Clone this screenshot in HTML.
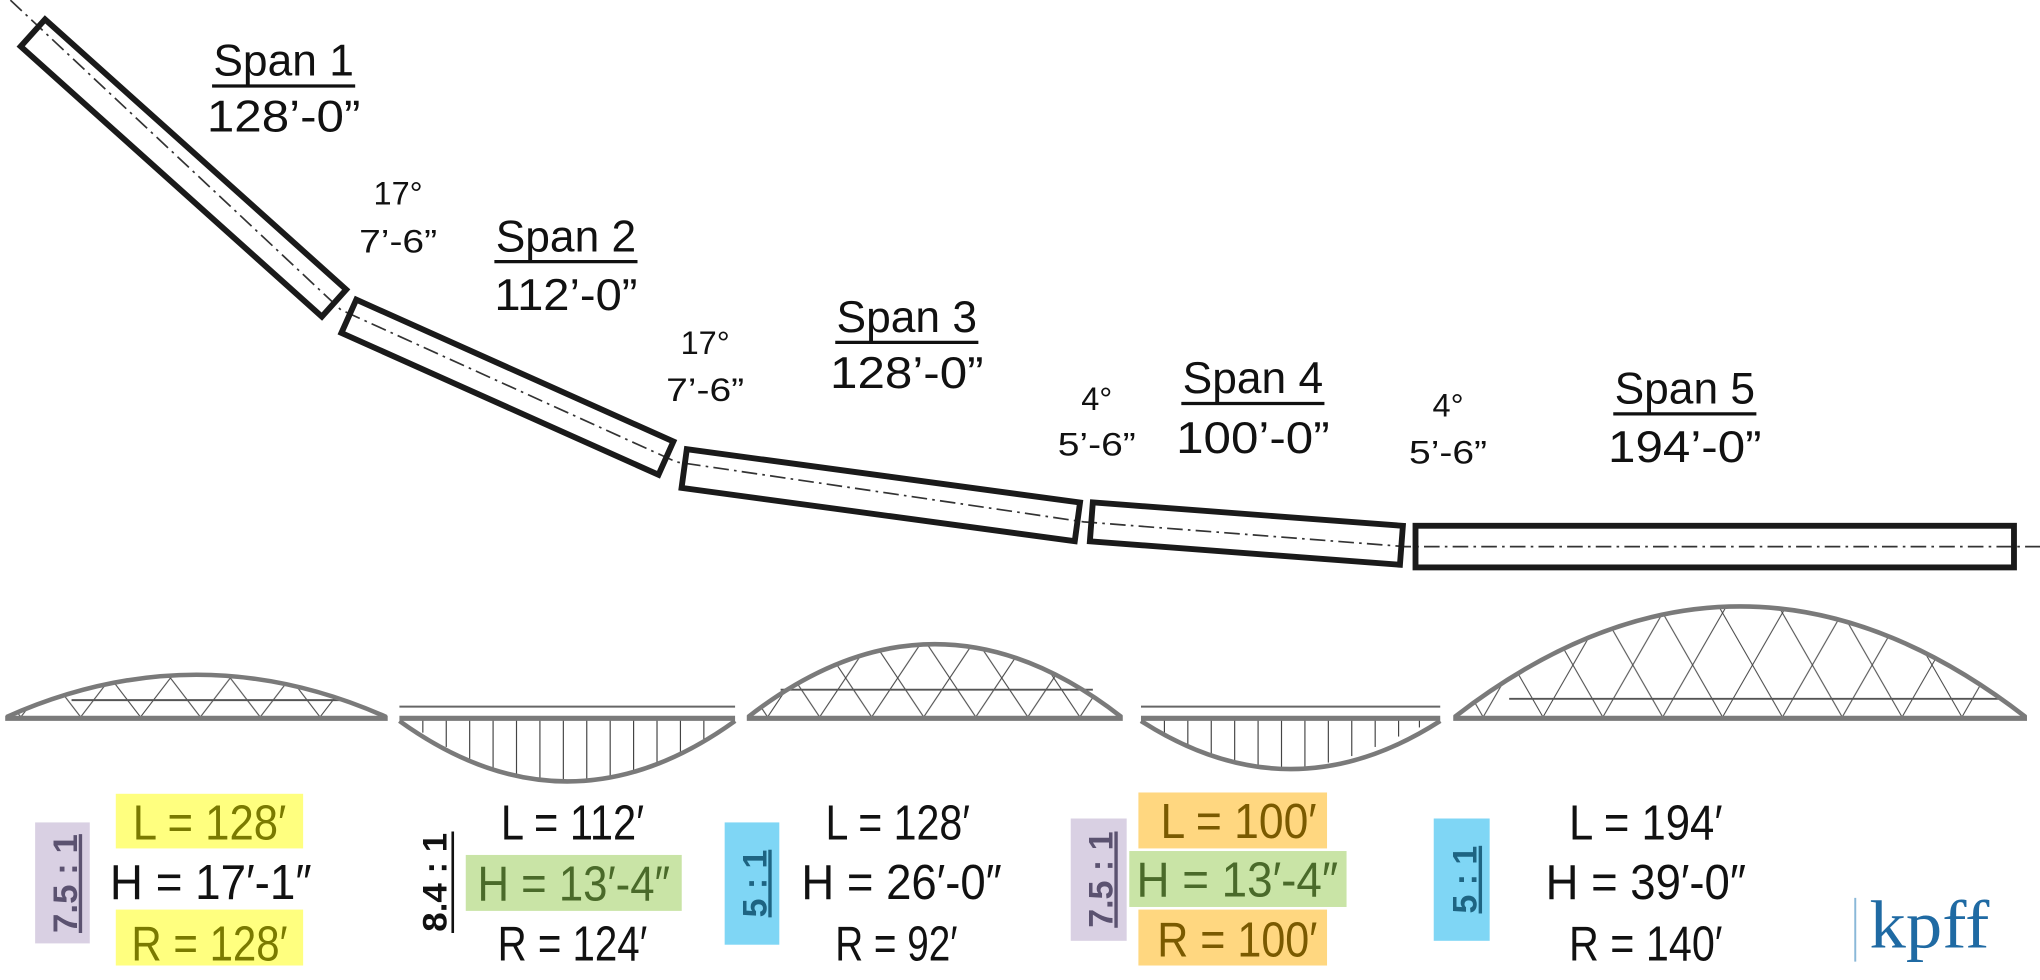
<!DOCTYPE html>
<html><head><meta charset="utf-8"><style>html,body{margin:0;padding:0;background:#fff}svg{display:block}</style></head>
<body>
<svg width="2040" height="980" viewBox="0 0 1568 753" xmlns="http://www.w3.org/2000/svg" font-family="'Liberation Sans', sans-serif">
<defs>
<pattern id="p1" patternUnits="userSpaceOnUse" x="16" y="491" width="46" height="60"><path d="M0,60 L46,0 M0,0 L46,60" stroke="#444" stroke-width="0.8" fill="none"/></pattern>
<pattern id="p3" patternUnits="userSpaceOnUse" x="590" y="491" width="40" height="60"><path d="M0,60 L40,0 M0,0 L40,60" stroke="#444" stroke-width="0.8" fill="none"/></pattern>
<pattern id="p5" patternUnits="userSpaceOnUse" x="1140" y="471" width="46" height="80"><path d="M0,80 L46,0 M0,0 L46,80" stroke="#444" stroke-width="0.8" fill="none"/></pattern>
</defs>

<polyline points="8,0 262,238 520,355 833,401 1080,420 1568,420" fill="none" stroke="#333" stroke-width="1.3" stroke-dasharray="12 4 2 4"/>

<g fill="none" stroke="#1a1a1a" stroke-width="4.5">
<rect x="-155.5" y="-14" width="311" height="28" transform="translate(141,129) rotate(41.9)"/>
<rect x="-133.5" y="-14" width="267" height="28" transform="translate(390,297.5) rotate(24.1)"/>
<rect x="-152.5" y="-15" width="305" height="30" transform="translate(677,380.5) rotate(7.73)"/>
<rect x="-119.5" y="-15" width="239" height="30" transform="translate(958,410) rotate(4.32)"/>
<rect x="1088" y="404" width="460" height="32"/>
</g>

<g font-size="34" fill="#111" text-anchor="middle">
<text x="218" y="58" textLength="108" lengthAdjust="spacingAndGlyphs">Span 1</text>
<line x1="163" y1="66" x2="273" y2="66" stroke="#111" stroke-width="2.5"/>
<text x="218" y="101" textLength="118" lengthAdjust="spacingAndGlyphs">128’-0”</text>
<text x="435" y="193" textLength="108" lengthAdjust="spacingAndGlyphs">Span 2</text>
<line x1="380" y1="201" x2="490" y2="201" stroke="#111" stroke-width="2.5"/>
<text x="435" y="238" textLength="110" lengthAdjust="spacingAndGlyphs">112’-0”</text>
<text x="697" y="255" textLength="108" lengthAdjust="spacingAndGlyphs">Span 3</text>
<line x1="642" y1="263" x2="752" y2="263" stroke="#111" stroke-width="2.5"/>
<text x="697" y="298" textLength="118" lengthAdjust="spacingAndGlyphs">128’-0”</text>
<text x="963" y="302" textLength="108" lengthAdjust="spacingAndGlyphs">Span 4</text>
<line x1="908" y1="310" x2="1018" y2="310" stroke="#111" stroke-width="2.5"/>
<text x="963" y="348" textLength="118" lengthAdjust="spacingAndGlyphs">100’-0”</text>
<text x="1295" y="310" textLength="108" lengthAdjust="spacingAndGlyphs">Span 5</text>
<line x1="1240" y1="318" x2="1350" y2="318" stroke="#111" stroke-width="2.5"/>
<text x="1295" y="355" textLength="118" lengthAdjust="spacingAndGlyphs">194’-0”</text>
</g>
<g font-size="25" fill="#111" text-anchor="middle">
<text x="306" y="157">17°</text><text x="306" y="194" textLength="60" lengthAdjust="spacingAndGlyphs">7’-6”</text>
<text x="542" y="272">17°</text><text x="542" y="308" textLength="60" lengthAdjust="spacingAndGlyphs">7’-6”</text>
<text x="843" y="315">4°</text><text x="843" y="350" textLength="60" lengthAdjust="spacingAndGlyphs">5’-6”</text>
<text x="1113" y="320">4°</text><text x="1113" y="356" textLength="60" lengthAdjust="spacingAndGlyphs">5’-6”</text>
</g>

<!-- arch 1 -->
<path d="M5,551 Q151,486 297,551 Z" fill="url(#p1)"/>
<line x1="55" y1="538" x2="262" y2="538" stroke="#555" stroke-width="1.5"/>
<path d="M5,551 Q151,486 297,551" fill="none" stroke="#7a7a7a" stroke-width="3.5"/>
<line x1="4" y1="552" x2="298" y2="552" stroke="#7a7a7a" stroke-width="4"/>

<!-- arch 2 -->
<line x1="307" y1="543" x2="565" y2="543" stroke="#666" stroke-width="1.5"/>
<g stroke="#444" stroke-width="0.9">
<line x1="325" y1="552" x2="325" y2="563"/><line x1="343" y1="552" x2="343" y2="574"/><line x1="361" y1="552" x2="361" y2="583"/><line x1="379" y1="552" x2="379" y2="590"/><line x1="397" y1="552" x2="397" y2="595"/><line x1="415" y1="552" x2="415" y2="598"/><line x1="433" y1="552" x2="433" y2="600"/><line x1="451" y1="552" x2="451" y2="599"/><line x1="469" y1="552" x2="469" y2="597"/><line x1="487" y1="552" x2="487" y2="593"/><line x1="505" y1="552" x2="505" y2="587"/><line x1="523" y1="552" x2="523" y2="578"/><line x1="541" y1="552" x2="541" y2="568"/>
</g>
<path d="M307,554 Q436,647 565,554" fill="none" stroke="#7a7a7a" stroke-width="3.5"/>
<line x1="307" y1="552" x2="565" y2="552" stroke="#7a7a7a" stroke-width="4"/>

<!-- arch 3 -->
<path d="M575,551 Q718.5,439 862,551 Z" fill="url(#p3)"/>
<line x1="600" y1="530" x2="840" y2="530" stroke="#555" stroke-width="1.5"/>
<path d="M575,551 Q718.5,439 862,551" fill="none" stroke="#7a7a7a" stroke-width="3.5"/>
<line x1="574" y1="552" x2="863" y2="552" stroke="#7a7a7a" stroke-width="4"/>

<!-- arch 4 -->
<line x1="877" y1="543" x2="1107" y2="543" stroke="#666" stroke-width="1.5"/>
<g stroke="#444" stroke-width="0.9">
<line x1="895" y1="552" x2="895" y2="563"/><line x1="913" y1="552" x2="913" y2="572"/><line x1="931" y1="552" x2="931" y2="580"/><line x1="949" y1="552" x2="949" y2="585"/><line x1="967" y1="552" x2="967" y2="588"/><line x1="985" y1="552" x2="985" y2="590"/><line x1="1003" y1="552" x2="1003" y2="589"/><line x1="1021" y1="552" x2="1021" y2="586"/><line x1="1039" y1="552" x2="1039" y2="581"/><line x1="1057" y1="552" x2="1057" y2="574"/><line x1="1075" y1="552" x2="1075" y2="566"/><line x1="1091" y1="552" x2="1091" y2="559"/>
</g>
<path d="M877,554 Q992,628 1107,554" fill="none" stroke="#7a7a7a" stroke-width="3.5"/>
<line x1="877" y1="552" x2="1107" y2="552" stroke="#7a7a7a" stroke-width="4"/>

<!-- arch 5 -->
<path d="M1118,551 Q1337.5,381 1557,551 Z" fill="url(#p5)"/>
<line x1="1160" y1="537" x2="1540" y2="537" stroke="#555" stroke-width="1.5"/>
<path d="M1118,551 Q1337.5,381 1557,551" fill="none" stroke="#7a7a7a" stroke-width="3.5"/>
<line x1="1117" y1="552" x2="1558" y2="552" stroke="#7a7a7a" stroke-width="4"/>

<!-- highlight boxes -->
<rect x="27" y="632" width="42" height="93" fill="#d9d0e3"/>
<rect x="89" y="610" width="144" height="42" fill="#ffff7f"/>
<rect x="89" y="699" width="144" height="43" fill="#ffff7f"/>
<rect x="358" y="657" width="166" height="43" fill="#c9e4a6"/>
<rect x="557" y="632" width="42" height="94" fill="#7fd6f5"/>
<rect x="823" y="629" width="43" height="94" fill="#d9d0e3"/>
<rect x="875" y="609" width="145" height="43" fill="#ffd780"/>
<rect x="868" y="654" width="167" height="43" fill="#c9e4a6"/>
<rect x="875" y="699" width="145" height="43" fill="#ffd780"/>
<rect x="1102" y="629" width="43" height="94" fill="#7fd6f5"/>

<g font-size="26" font-weight="bold" text-anchor="middle">
<text transform="translate(59,679) rotate(-90)" fill="#5b5270" textLength="76" lengthAdjust="spacingAndGlyphs" text-decoration="underline">7.5 : 1</text>
<text transform="translate(855,676) rotate(-90)" fill="#5b5270" textLength="74" lengthAdjust="spacingAndGlyphs" text-decoration="underline">7.5 : 1</text>
<text transform="translate(589,679) rotate(-90)" fill="#1e6482" textLength="52" lengthAdjust="spacingAndGlyphs" text-decoration="underline">5 : 1</text>
<text transform="translate(1135,676) rotate(-90)" fill="#1e6482" textLength="52" lengthAdjust="spacingAndGlyphs" text-decoration="underline">5 : 1</text>
<text transform="translate(343,678) rotate(-90)" fill="#111" textLength="76" lengthAdjust="spacingAndGlyphs">8.4 : 1</text>
</g>
<line x1="348" y1="639" x2="348" y2="717" stroke="#111" stroke-width="2"/>

<g font-size="38" text-anchor="middle" fill="#111">
<text x="161" y="645" fill="#7a7a00" textLength="118" lengthAdjust="spacingAndGlyphs">L = 128′</text>
<text x="162" y="691" textLength="155" lengthAdjust="spacingAndGlyphs">H = 17′-1″</text>
<text x="161" y="738" fill="#7a7a00" textLength="120" lengthAdjust="spacingAndGlyphs">R = 128′</text>

<text x="440" y="645" textLength="110" lengthAdjust="spacingAndGlyphs">L = 112′</text>
<text x="441" y="692" fill="#4a6a2a" textLength="148" lengthAdjust="spacingAndGlyphs">H = 13′-4″</text>
<text x="440" y="738" textLength="115" lengthAdjust="spacingAndGlyphs">R = 124′</text>

<text x="690" y="645" textLength="111" lengthAdjust="spacingAndGlyphs">L = 128′</text>
<text x="693" y="691" textLength="154" lengthAdjust="spacingAndGlyphs">H = 26′-0″</text>
<text x="689" y="738" textLength="94" lengthAdjust="spacingAndGlyphs">R = 92′</text>

<text x="952" y="644" fill="#7a5a00" textLength="120" lengthAdjust="spacingAndGlyphs">L = 100′</text>
<text x="951" y="689" fill="#4a6a2a" textLength="155" lengthAdjust="spacingAndGlyphs">H = 13′-4″</text>
<text x="951" y="735" fill="#7a5a00" textLength="123" lengthAdjust="spacingAndGlyphs">R = 100′</text>

<text x="1265" y="645" textLength="118" lengthAdjust="spacingAndGlyphs">L = 194′</text>
<text x="1265" y="691" textLength="154" lengthAdjust="spacingAndGlyphs">H = 39′-0″</text>
<text x="1265" y="738" textLength="118" lengthAdjust="spacingAndGlyphs">R = 140′</text>
</g>

<line x1="1426" y1="690" x2="1426" y2="739" stroke="#8ab8d8" stroke-width="1.5"/>
<text x="1437" y="728" font-family="'Liberation Serif', serif" font-size="52" fill="#1f6aa3" textLength="92" lengthAdjust="spacingAndGlyphs">kpff</text>
</svg>
</body></html>
